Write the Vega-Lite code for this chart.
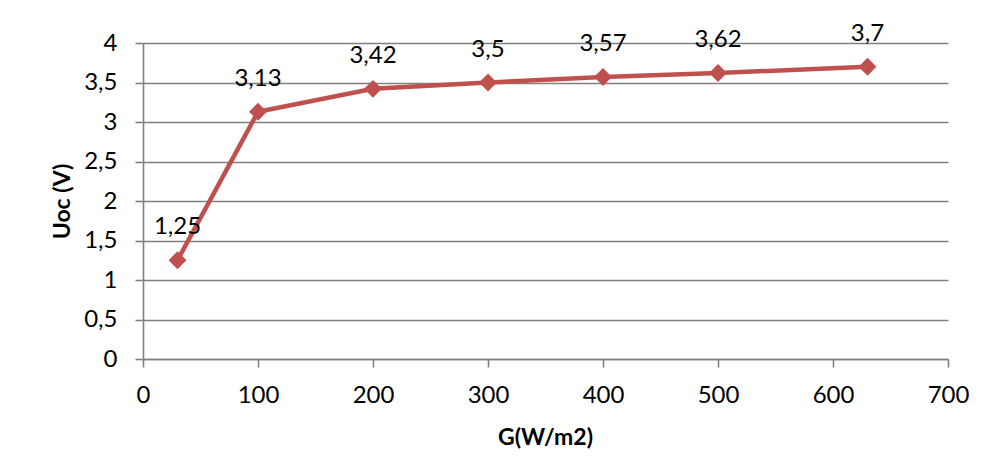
{
  "$schema": "https://vega.github.io/schema/vega-lite/v6.json",
  "width": 805,
  "height": 316,
  "autosize": {"type": "none"},
  "padding": {"left": 143, "top": 43, "right": 36, "bottom": 115},
  "background": "white",
  "config": {
    "locale": {"number": {"decimal": ",", "thousands": ".", "grouping": [3], "currency": ["", " €"]}},
    "font": "Lato",
    "view": {"stroke": null},
    "axis": {
      "labelFont": "Lato",
      "labelFontSize": 24,
      "labelColor": "#000000",
      "titleFont": "Lato",
      "titleFontSize": 23,
      "titleFontWeight": "bold",
      "titleColor": "#000000",
      "domainColor": "#808080",
      "domainWidth": 1.6,
      "tickColor": "#808080",
      "tickWidth": 1.6,
      "tickSize": 8,
      "gridColor": "#808080",
      "gridWidth": 1.6
    }
  },
  "data": {
    "values": [
      {"G": 30, "Uoc": 1.25},
      {"G": 100, "Uoc": 3.13},
      {"G": 200, "Uoc": 3.42},
      {"G": 300, "Uoc": 3.5},
      {"G": 400, "Uoc": 3.57},
      {"G": 500, "Uoc": 3.62},
      {"G": 630, "Uoc": 3.7}
    ]
  },
  "encoding": {
    "x": {
      "field": "G",
      "type": "quantitative",
      "scale": {"domain": [0, 700], "nice": false, "zero": true},
      "axis": {"values": [0, 100, 200, 300, 400, 500, 600, 700], "grid": false, "title": "G(W/m2)", "labelPadding": 16, "titleX": 402, "titleY": 78, "titleBaseline": "middle", "titleAnchor": "middle", "format": "d", "labelFlush": false}
    },
    "y": {
      "field": "Uoc",
      "type": "quantitative",
      "scale": {"domain": [0, 4], "nice": false},
      "axis": {"values": [0, 0.5, 1, 1.5, 2, 2.5, 3, 3.5, 4], "grid": true, "title": "Uoc (V)", "labelPadding": 18, "titleX": -81, "titleY": 158, "titleBaseline": "middle", "titleAnchor": "middle", "titleAngle": -90, "format": ".1~f", "labelFlush": false}
    }
  },
  "layer": [
    {
      "mark": {"type": "line", "color": "#C0504D", "strokeWidth": 4.5, "point": {"shape": "diamond", "size": 320, "filled": true, "color": "#C0504D", "opacity": 1}}
    },
    {
      "mark": {"type": "text", "fontSize": 24, "font": "Lato", "color": "#000000", "dy": -33, "baseline": "middle", "align": "center"},
      "encoding": {"text": {"field": "Uoc", "type": "quantitative", "format": ".2~f"}}
    }
  ]
}
